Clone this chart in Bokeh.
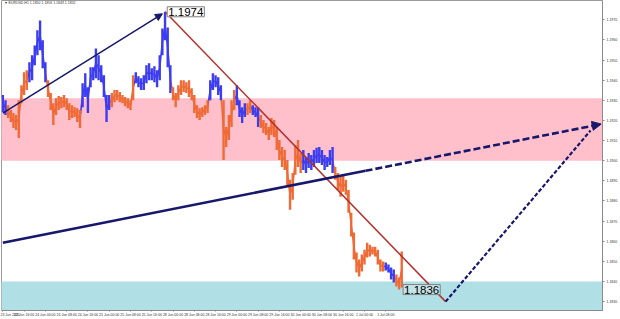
from bokeh.plotting import figure
from bokeh.models import (Range1d, FixedTicker, PrintfTickFormatter, Arrow,
                          NormalHead, Label, ColumnDataSource)
from bokeh.transform import factor_cmap
from bokeh.embed import file_html
from bokeh.resources import INLINE

# ---------------- data (EURUSD, hourly bars) ----------------
bar_high = [
    1.19326, 1.19301, 1.19276, 1.19252, 1.19237, 1.19227, 1.19301, 1.19375, 1.19440, 1.19450,
    1.19489, 1.19524, 1.19573, 1.19648, 1.19697, 1.19598, 1.19489, 1.19400, 1.19336, 1.19286,
    1.19311, 1.19321, 1.19316, 1.19326, 1.19311, 1.19286, 1.19276, 1.19266, 1.19261, 1.19252,
    1.19385, 1.19435, 1.19365, 1.19464, 1.19464, 1.19558, 1.19524, 1.19474, 1.19425, 1.19326,
    1.19326, 1.19336, 1.19351, 1.19351, 1.19341, 1.19326, 1.19316, 1.19311, 1.19301, 1.19425,
    1.19440, 1.19420, 1.19410, 1.19425, 1.19474, 1.19484, 1.19459, 1.19469, 1.19450, 1.19524,
    1.19657, 1.19740, 1.19662, 1.19474, 1.19365, 1.19336, 1.19375, 1.19400, 1.19400, 1.19390,
    1.19400, 1.19360, 1.19326, 1.19276, 1.19261, 1.19266, 1.19276, 1.19301, 1.19400, 1.19435,
    1.19425, 1.19415, 1.19375, 1.19301, 1.19167, 1.19227, 1.19301, 1.19351, 1.19375, 1.19301,
    1.19266, 1.19286, 1.19286, 1.19301, 1.19276, 1.19266, 1.19266, 1.19227, 1.19202, 1.19187,
    1.19167, 1.19212, 1.19202, 1.19167, 1.19103, 1.19068, 1.19053, 1.19004, 1.18905, 1.18939,
    1.19078, 1.19103, 1.19039, 1.19053, 1.19019, 1.19039, 1.19029, 1.19053, 1.19064, 1.19068,
    1.19053, 1.19029, 1.19019, 1.19053, 1.19068, 1.18969, 1.18939, 1.18920, 1.18930, 1.18905,
    1.18855, 1.18742, 1.18643, 1.18544, 1.18509, 1.18534, 1.18558, 1.18593, 1.18583, 1.18573,
    1.18573, 1.18558, 1.18509, 1.18499, 1.18494, 1.18484, 1.18469, 1.18460, 1.18435, 1.18420,
    1.18549,
]
bar_low = [
    1.19242, 1.19227, 1.19212, 1.19192, 1.19162, 1.19153, 1.19113, 1.19286, 1.19326, 1.19351,
    1.19390, 1.19400, 1.19474, 1.19524, 1.19549, 1.19459, 1.19390, 1.19316, 1.19252, 1.19177,
    1.19227, 1.19252, 1.19261, 1.19266, 1.19252, 1.19202, 1.19212, 1.19217, 1.19192, 1.19162,
    1.19266, 1.19316, 1.19237, 1.19365, 1.19400, 1.19410, 1.19400, 1.19390, 1.19316, 1.19192,
    1.19252, 1.19266, 1.19291, 1.19301, 1.19291, 1.19286, 1.19271, 1.19261, 1.19252, 1.19301,
    1.19385, 1.19365, 1.19351, 1.19351, 1.19385, 1.19400, 1.19400, 1.19390, 1.19365, 1.19400,
    1.19524, 1.19598, 1.19464, 1.19336, 1.19301, 1.19266, 1.19301, 1.19326, 1.19341, 1.19336,
    1.19316, 1.19301, 1.19237, 1.19212, 1.19202, 1.19217, 1.19227, 1.19237, 1.19301, 1.19351,
    1.19365, 1.19326, 1.19301, 1.19004, 1.19068, 1.19103, 1.19167, 1.19252, 1.19276, 1.19217,
    1.19187, 1.19217, 1.19227, 1.19237, 1.19227, 1.19217, 1.19167, 1.19162, 1.19138, 1.19128,
    1.19103, 1.19128, 1.19118, 1.19053, 1.19004, 1.18969, 1.18954, 1.18880, 1.18756, 1.18806,
    1.18930, 1.18969, 1.18939, 1.18954, 1.18939, 1.18964, 1.18954, 1.18969, 1.18989, 1.18989,
    1.18979, 1.18954, 1.18969, 1.18979, 1.18939, 1.18905, 1.18855, 1.18821, 1.18846, 1.18831,
    1.18742, 1.18623, 1.18509, 1.18445, 1.18425, 1.18450, 1.18484, 1.18519, 1.18524, 1.18534,
    1.18524, 1.18484, 1.18450, 1.18450, 1.18455, 1.18445, 1.18410, 1.18395, 1.18375, 1.18360,
    1.18370,
]
# U = rising wave (blue), D = falling wave (orange)
trend_codes = ("UU" "DDDDDDDD" "UUUUUUU" "DDDDDDDDDDDDD" "UUUUUUUUUUU" "DDDDDDDDD"
               "UUUUUUUUUUUUUU" "DDDDDDDDDDDDDD" "UUUUU" "DDDDD" "UUUU" "DD" "UUU"
               "DDDDDDDDDDDDDDDD" "UUUUUUUUUUUU" "DDDDDDDDDDDDDDDDDDD" "UUUU" "DDD")

time_labels = ["23 Jun 2021", "23 Jun 16:00", "24 Jun 00:00", "24 Jun 08:00",
               "24 Jun 16:00", "25 Jun 00:00", "25 Jun 08:00", "25 Jun 16:00",
               "28 Jun 00:00", "28 Jun 08:00", "28 Jun 16:00", "29 Jun 00:00",
               "29 Jun 08:00", "29 Jun 16:00", "30 Jun 00:00", "30 Jun 08:00",
               "30 Jun 16:00", "1 Jul 00:00", "1 Jul 08:00"]
bars_per_label = 8
price_ticks = [1.1830, 1.1840, 1.1850, 1.1860, 1.1870, 1.1880, 1.1890, 1.1900,
               1.1910, 1.1920, 1.1930, 1.1940, 1.1950, 1.1960, 1.1970]

peak_bar, peak_price = 61, 1.1974
low_bar, low_price = 149, 1.1836
current_price = 1.1852
header_text = "\u25bc EURUSD,H1  1.1850 1.1856 1.1849 1.1852"

# resistance / support zones
zone_bottom = [1.1900, 1.1815]
zone_top = [1.1931, 1.1840]

# wave lines (bar, price)
wave_up_start = (0, 1.19237)
wave_up_end = (60, 1.19730)
wave_down_end = (166.5, 1.18300)
trend_start = (0, 1.18593)
trend_break = (136.4, 1.18950)
trend_target = (225, 1.19182)
forecast_end = (221, 1.19150)

# ---------------- figure ----------------
x_start, x_end = -0.5, 225.5
y_start, y_end = 1.18256, 1.19796

p = figure(width=620, height=319, output_backend="svg", toolbar_location=None,
           x_range=Range1d(x_start, x_end), y_range=Range1d(y_start, y_end),
           y_axis_location="right", min_border_left=1, min_border_top=0,
           min_border_bottom=0, min_border_right=0)
p.xgrid.visible = False
p.ygrid.visible = False
p.outline_line_color = "#9a9a9a"
p.background_fill_color = "white"
p.border_fill_color = "white"

FONT = "Liberation Sans"
BLUE, ORANGE = "#3c3cf0", "#ef6a35"

# zones
p.quad(left=[x_start - 5] * 2, right=[x_end + 5] * 2, bottom=zone_bottom, top=zone_top,
       fill_color=["#ffc0cb", "#b0e0e6"], line_color=None)

# bars
trend = ["up" if c == "U" else "down" for c in trend_codes]
bars = list(range(len(bar_high)))
mid = [(h + l) / 2 for h, l in zip(bar_high, bar_low)]
link_src = ColumnDataSource(dict(x0=bars[:-1], y0=mid[:-1], x1=bars[1:], y1=mid[1:],
                                 trend=trend[1:]))
cmap = factor_cmap("trend", [BLUE, ORANGE], ["up", "down"])
p.segment(x0="x0", y0="y0", x1="x1", y1="y1", source=link_src, line_width=1.6,
          line_color=cmap)
src = ColumnDataSource(dict(bar=bars, high=bar_high, low=bar_low, trend=trend))
p.segment(x0="bar", y0="low", x1="bar", y1="high", source=src, line_width=2.4,
          line_color=cmap)

NAVY = "#17176b"
# rising wave arrow
p.add_layout(Arrow(x_start=wave_up_start[0], y_start=wave_up_start[1],
                   x_end=wave_up_end[0], y_end=wave_up_end[1],
                   line_color=NAVY, line_width=1.5,
                   end=NormalHead(size=7, fill_color=NAVY, line_color=NAVY)))
# falling wave
p.line([peak_bar, wave_down_end[0]], [peak_price, wave_down_end[1]],
       line_color="#b3302b", line_width=1.5)
# long trend line
p.line([trend_start[0], trend_break[0]], [trend_start[1], trend_break[1]],
       line_color=NAVY, line_width=2.6)
p.add_layout(Arrow(x_start=trend_break[0], y_start=trend_break[1],
                   x_end=trend_target[0], y_end=trend_target[1],
                   line_color=NAVY, line_width=2.6, line_dash="7 3",
                   end=NormalHead(size=9, fill_color=NAVY, line_color=NAVY)))
# forecast
p.line([wave_down_end[0], forecast_end[0]], [wave_down_end[1], forecast_end[1]],
       line_color=NAVY, line_width=2.2, line_dash="4 2")

# price labels
p.add_layout(Label(x=peak_bar + 0.8, y=peak_price, text=f"{peak_price:.4f}",
                   text_font=FONT, text_font_size="11.5px", text_color="black",
                   text_baseline="middle", text_align="left",
                   background_fill_color="white", border_line_color="#808080",
                   padding=1))
p.add_layout(Label(x=low_bar + 1.5, y=low_price, text=f"{low_price:.4f}",
                   text_font=FONT, text_font_size="11.5px", text_color="black",
                   text_baseline="middle", text_align="left",
                   background_fill_color="#c4e4e8", border_line_color="#808080",
                   padding=1))
p.add_layout(Label(x=605, x_units="screen", y=current_price, text=f"{current_price:.4f}",
                   text_font=FONT, text_font_size="3.5px", text_color="white",
                   text_baseline="middle", text_align="left",
                   background_fill_color="black", padding=1))
p.add_layout(Label(x=x_start + 1, y=y_end, text=header_text, text_font=FONT,
                   text_font_size="3.5px", text_color="#333333",
                   text_baseline="top", text_align="left"))

# axes
p.yaxis.ticker = FixedTicker(ticks=price_ticks)
p.yaxis.formatter = PrintfTickFormatter(format="%.4f")
p.yaxis.major_label_text_font = FONT
p.yaxis.major_label_text_font_size = "3.5px"
p.yaxis.major_label_text_color = "#333333"
p.yaxis.major_tick_out = 2
p.yaxis.major_tick_in = 0
p.yaxis.minor_tick_line_color = None
p.yaxis.axis_line_color = "#8a8a8a"
p.yaxis.major_tick_line_color = "#8a8a8a"
p.yaxis.major_label_standoff = 2

x_ticks = [i * bars_per_label for i in range(len(time_labels))]
p.xaxis.ticker = FixedTicker(ticks=x_ticks)
p.xaxis.major_label_overrides = {t: lab for t, lab in zip(x_ticks, time_labels)}
p.xaxis.major_label_text_align = "left"
p.xaxis.major_label_text_font = FONT
p.xaxis.major_label_text_font_size = "3.5px"
p.xaxis.major_label_text_color = "#333333"
p.xaxis.major_tick_out = 1
p.xaxis.major_tick_in = 0
p.xaxis.minor_tick_line_color = None
p.xaxis.axis_line_color = "#8a8a8a"
p.xaxis.major_tick_line_color = "#8a8a8a"
p.xaxis.major_label_standoff = 1

open("out.html", "w").write(file_html(p, INLINE))
